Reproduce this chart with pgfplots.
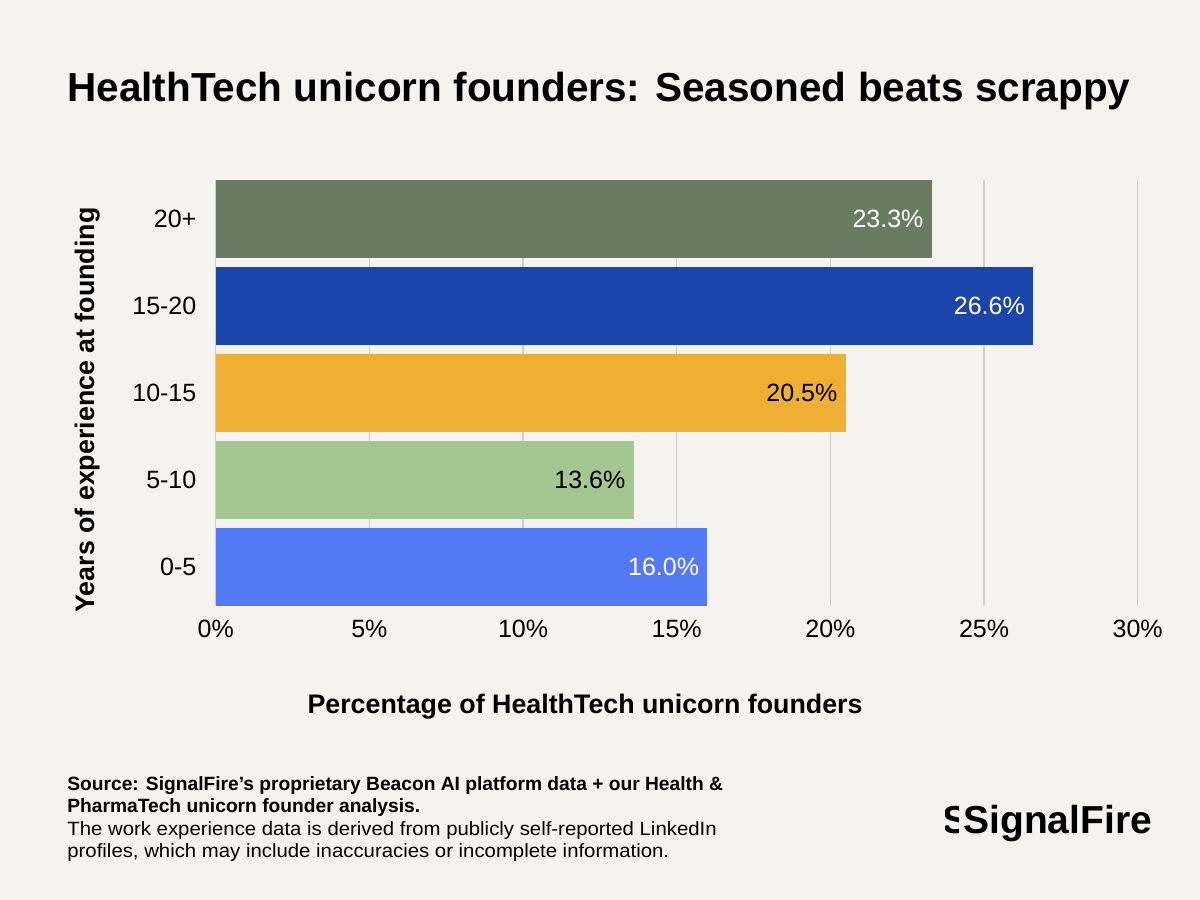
\documentclass[border=0pt]{standalone}
\usepackage{fontspec}
\setmainfont{Liberation Sans}
\usepackage{pgfplots}
\pgfplotsset{compat=1.18}
\definecolor{bg}{HTML}{F4F3EF}
\definecolor{gridc}{HTML}{CFCFCD}
\definecolor{cA}{HTML}{6A7B63}
\definecolor{cB}{HTML}{1B45AA}
\definecolor{cC}{HTML}{EEAF33}
\definecolor{cD}{HTML}{A4C690}
\definecolor{cE}{HTML}{5479F5}
\begin{document}
\begin{tikzpicture}
\fill[bg] (0,0) rectangle (600bp,450bp);
\node[anchor=base west, inner sep=0pt, font=\fontsize{20.25bp}{24bp}\selectfont\bfseries] at (33.5bp,399bp) {HealthTech unicorn founders: Seasoned beats scrappy};
\begin{axis}[
  at={(107.85bp,147bp)}, anchor=south west,
  scale only axis, width=461bp, height=213bp,
  xmin=0, xmax=30, ymin=-0.45, ymax=4.45,
  xbar, bar width=39bp, bar shift=0pt,
  axis line style={draw=none}, major tick length=0pt,
  xmajorgrids, major grid style={draw=gridc, line width=0.6bp},
  xtick={0,5,...,30},
  xticklabel={\pgfmathprintnumber{\tick}\%},
  ytick={0,1,2,3,4},
  yticklabels={0-5,5-10,10-15,15-20,20+},
  tick label style={font=\fontsize{12.5bp}{15bp}\selectfont, inner sep=0pt},
  xticklabel style={anchor=base, yshift=-16bp},
  yticklabel style={anchor=east, xshift=-9.5bp},
  /pgf/number format/assume math mode=true,
  point meta=x,
  nodes near coords={\pgfmathprintnumber[fixed,fixed zerofill,precision=1]{\pgfplotspointmeta}\%},
  every node near coord/.append style={anchor=east, xshift=-4bp, inner sep=0pt, font=\fontsize{12.5bp}{15bp}\selectfont},
  clip=false,
]
\addplot[fill=cA, draw=none, every node near coord/.append style={text=white}] coordinates {(23.3,4)};
\addplot[fill=cB, draw=none, every node near coord/.append style={text=white}] coordinates {(26.6,3)};
\addplot[fill=cC, draw=none, every node near coord/.append style={text=black}] coordinates {(20.5,2)};
\addplot[fill=cD, draw=none, every node near coord/.append style={text=black}] coordinates {(13.6,1)};
\addplot[fill=cE, draw=none, every node near coord/.append style={text=white}] coordinates {(16.0,0)};
\end{axis}
\node[rotate=90, anchor=base, inner sep=0pt, font=\fontsize{13.4bp}{16bp}\selectfont\bfseries] at (47bp,245bp) {Years of experience at founding};
\node[anchor=base, inner sep=0pt, font=\fontsize{13.4bp}{16bp}\selectfont\bfseries] at (292.5bp,93bp) {Percentage of HealthTech unicorn founders};
\begin{scope}[every node/.style={anchor=base west, inner sep=0pt, font=\fontsize{9.6bp}{11bp}\selectfont}]
\node at (33.5bp,54.5bp) {\bfseries Source: SignalFire's proprietary Beacon AI platform data + our Health \&};
\node at (33.5bp,43.5bp) {\bfseries PharmaTech unicorn founder analysis.};
\node at (33.5bp,32.5bp) {\addfontfeature{FakeStretch=1.06}The work experience data is derived from publicly self-reported LinkedIn};
\node at (33.5bp,21.5bp) {\addfontfeature{FakeStretch=1.06}profiles, which may include inaccuracies or incomplete information.};
\end{scope}
\begin{scope}
\clip (472.5bp,30bp) rectangle (479bp,60bp);
\node[anchor=base west, inner sep=0pt, font=\fontsize{19.5bp}{23bp}\selectfont\bfseries] at (471bp,33.5bp) {S};
\end{scope}
\node[anchor=base west, inner sep=0pt, font=\fontsize{19.5bp}{23bp}\selectfont\bfseries] at (481.5bp,33.5bp) {SignalFire};
\end{tikzpicture}
\end{document}
